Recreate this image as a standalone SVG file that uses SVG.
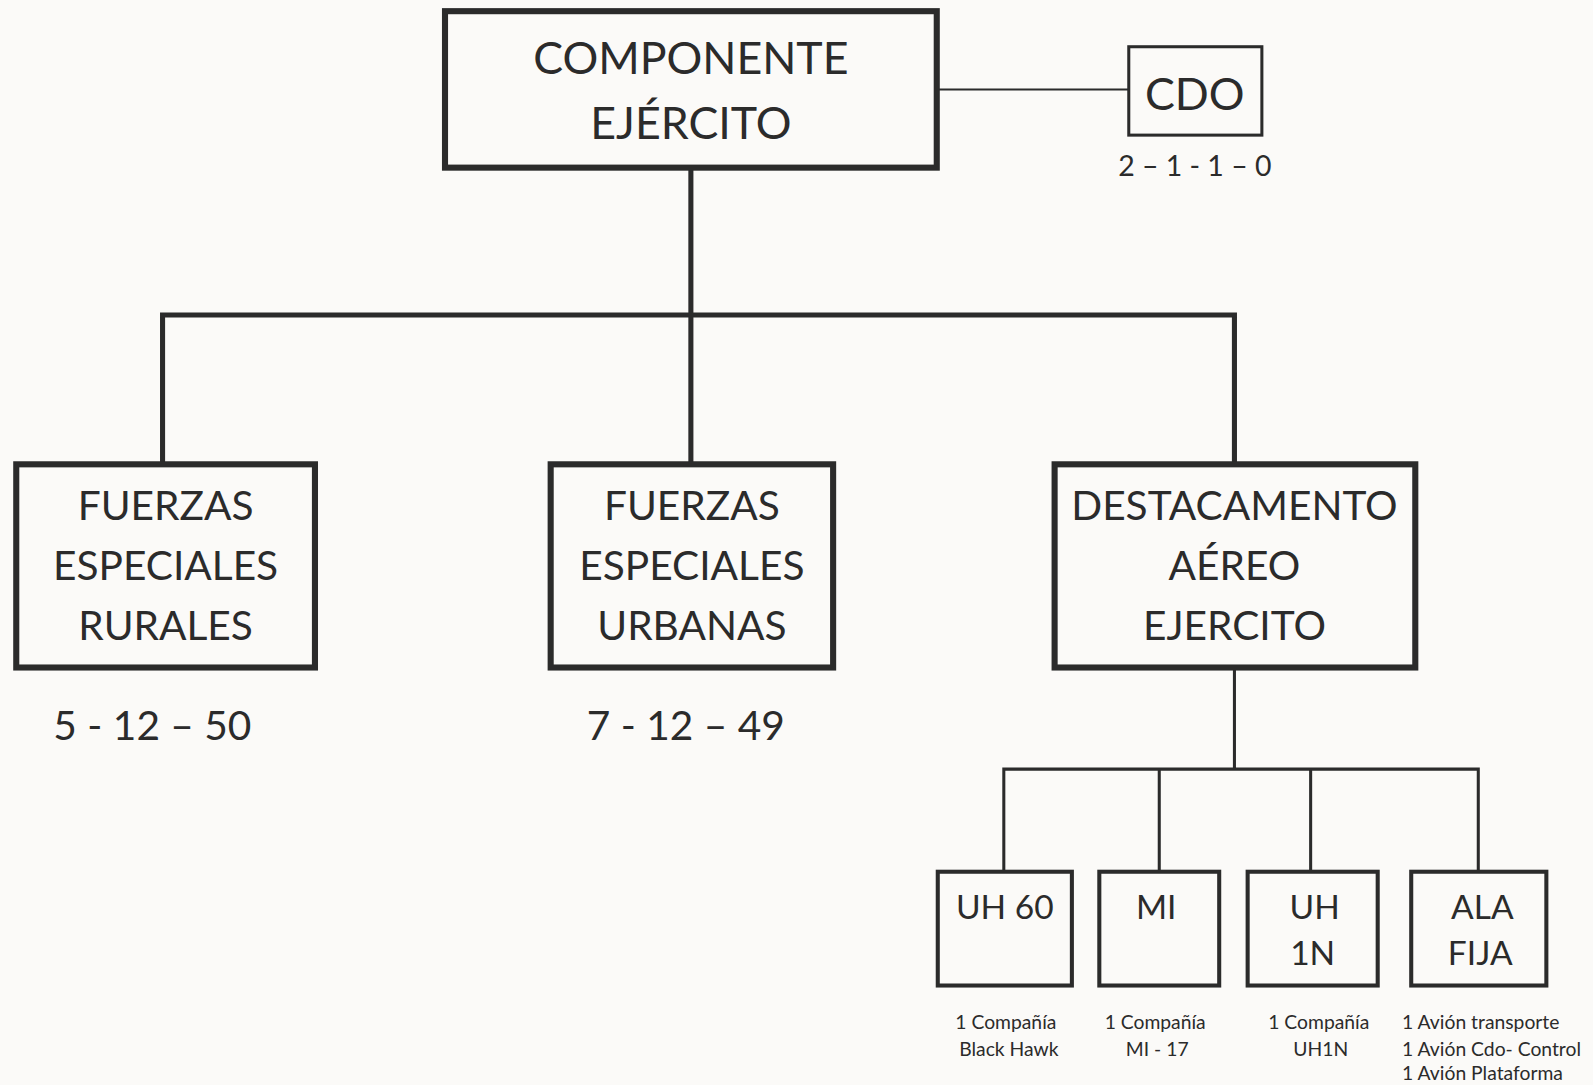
<svg xmlns="http://www.w3.org/2000/svg" width="1593" height="1085" viewBox="0 0 1593 1085">
<style>
.bx{fill:none;stroke:#2b2b2b}
.b6{stroke-width:6}
.b4{stroke-width:4}
.b3{stroke-width:3}
.ln{fill:none;stroke:#2b2b2b}
text{font-family:Lato,"Liberation Sans",sans-serif;fill:#2b2b2b;text-anchor:middle}
.t1{font-size:44px}
.t2{font-size:40px}
.t3{font-size:33px}
.t4{font-size:19px}
.t5{font-size:28px}
</style>
<rect width="1593" height="1085" fill="#fbfaf8"/>
<g transform="scale(1.016)">
<g id="connectors">
<line class="ln" x1="922" y1="88" x2="1111" y2="88" stroke-width="2"/>
<path class="ln" stroke-width="5" d="M680 165V310M160 456V310H1215V456M680 310V456"/>
<path class="ln" stroke-width="3" d="M1215 657V757M988 858V757H1455V858M1141 757V858M1290 757V858"/>
</g>
<g id="n-componente">
<rect class="bx b6" x="438" y="11" width="484" height="154"/>
<text class="t1" x="680" y="73">COMPONENTE</text>
<text class="t1" x="680" y="137">EJÉRCITO</text>
</g>
<g id="n-cdo">
<rect class="bx b3" x="1111" y="46" width="131" height="87"/>
<text class="t1" x="1176" y="108">CDO</text>
<text class="t5" x="1176" y="173">2 – 1 - 1 – 0</text>
</g>
<g id="n-rurales">
<rect class="bx b6" x="16" y="457" width="294" height="200"/>
<text class="t2" x="163" y="512">FUERZAS</text>
<text class="t2" x="163" y="571">ESPECIALES</text>
<text class="t2" x="163" y="630">RURALES</text>
<text class="t2" x="150" y="728">5 - 12 – 50</text>
</g>
<g id="n-urbanas">
<rect class="bx b6" x="542" y="457" width="278" height="200"/>
<text class="t2" x="681" y="512">FUERZAS</text>
<text class="t2" x="681" y="571">ESPECIALES</text>
<text class="t2" x="681" y="630">URBANAS</text>
<text class="t2" x="675" y="728">7 - 12 – 49</text>
</g>
<g id="n-destacamento">
<rect class="bx b6" x="1038" y="457" width="355" height="200"/>
<text class="t2" x="1215" y="512">DESTACAMENTO</text>
<text class="t2" x="1215" y="571">AÉREO</text>
<text class="t2" x="1215" y="630">EJERCITO</text>
</g>
<g id="n-uh60">
<rect class="bx b4" x="923" y="858" width="132" height="112"/>
<text class="t3" x="989" y="905">UH 60</text>
<text class="t4" x="990" y="1013">1 Compañía</text>
<text class="t4" x="993" y="1039">Black Hawk</text>
</g>
<g id="n-mi">
<rect class="bx b4" x="1082" y="858" width="118" height="112"/>
<text class="t3" x="1138" y="905">MI</text>
<text class="t4" x="1137" y="1013">1 Compañía</text>
<text class="t4" x="1139" y="1039">MI - 17</text>
</g>
<g id="n-uh1n">
<rect class="bx b4" x="1228" y="858" width="128" height="112"/>
<text class="t3" x="1294" y="905">UH</text>
<text class="t3" x="1292" y="950">1N</text>
<text class="t4" x="1298" y="1013">1 Compañía</text>
<text class="t4" x="1300" y="1039">UH1N</text>
</g>
<g id="n-alafija">
<rect class="bx b4" x="1389" y="858" width="133" height="112"/>
<text class="t3" x="1459" y="905">ALA</text>
<text class="t3" x="1457" y="950">FIJA</text>
<text class="t4" x="1380" y="1013" style="text-anchor:start">1 Avión transporte</text>
<text class="t4" x="1380" y="1039" style="text-anchor:start">1 Avión Cdo- Control</text>
<text class="t4" x="1380" y="1063" style="text-anchor:start">1 Avión Plataforma</text>
</g>
</g>
</svg>
